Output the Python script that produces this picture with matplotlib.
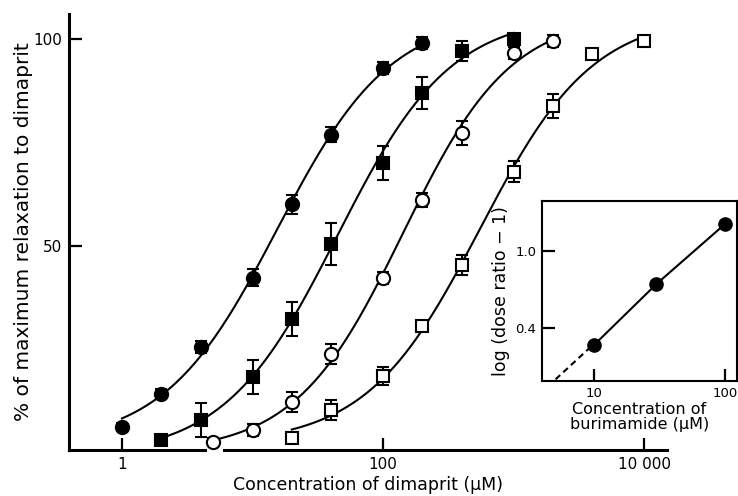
import numpy as np
import matplotlib
matplotlib.use("Agg")
import matplotlib.pyplot as plt

plt.rcParams['font.family'] = ['DejaVu Sans']

# dimaprit concentration-response curves (uM, % of max relaxation)
ctrl_x = [1, 2, 4, 10, 20, 40, 100, 200]
ctrl_y = [6.3, 14.3, 25.6, 42.3, 60.1, 76.8, 93.0, 99.0]
ctrl_err = [1.0, 1.2, 1.5, 2.0, 2.3, 1.8, 1.5, 1.5]

b10_x = [2, 4, 10, 20, 40, 100, 200, 400, 1000]
b10_y = [3.1, 8.0, 18.4, 32.4, 50.5, 70.0, 87.0, 97.1, 100.0]
b10_err = [1.0, 4.1, 4.1, 4.1, 5.0, 4.1, 3.9, 2.4, 1.2]

b30_x = [5, 10, 20, 40, 100, 200, 400, 1000, 2000]
b30_y = [2.7, 5.6, 12.3, 23.9, 42.3, 61.1, 77.3, 96.6, 99.5]
b30_err = [1.0, 1.5, 2.5, 2.5, 1.5, 1.7, 2.9, 1.5, 1.5]

b100_x = [20, 40, 100, 200, 400, 1000, 2000, 4000, 10000]
b100_y = [3.6, 10.4, 18.6, 30.7, 45.4, 67.9, 83.8, 96.4, 99.5]
b100_err = [1.0, 2.4, 2.2, 1.0, 2.4, 2.5, 2.9, 1.0, 1.0]

# Schild plot inset
schild_x = [10, 30, 100]
schild_y = [0.267, 0.743, 1.21]


def fit_curve(x, y):
    # 4-parameter logistic, brute force grid fit in log10(x)
    lx = np.log10(x)
    y = np.asarray(y)
    lec = np.linspace(lx.min(), lx.max(), 121)[:, None, None, None, None]
    n = np.linspace(0.5, 2.5, 41)[None, :, None, None, None]
    bot = np.linspace(-10, 5, 16)[None, None, :, None, None]
    top = np.linspace(98, 106, 9)[None, None, None, :, None]
    pred = bot + (top - bot) / (1 + 10 ** ((lec - lx) * n))
    sse = ((pred - y) ** 2).sum(axis=-1)
    i = np.unravel_index(np.argmin(sse), sse.shape)
    p = (lec.ravel()[i[0]], n.ravel()[i[1]], bot.ravel()[i[2]], top.ravel()[i[3]])
    xs = np.logspace(lx.min(), lx.max(), 200)
    ys = p[2] + (p[3] - p[2]) / (1 + 10 ** ((p[0] - np.log10(xs)) * p[1]))
    return xs, ys


fig = plt.figure(figsize=(7.38, 4.96), dpi=100)
ax = fig.add_axes([0.0935, 0.0927, 0.8105, 0.8791])

series = [
    (ctrl_x, ctrl_y, ctrl_err, 'o', 'black'),
    (b10_x, b10_y, b10_err, 's', 'black'),
    (b30_x, b30_y, b30_err, 'o', 'white'),
    (b100_x, b100_y, b100_err, 's', 'white'),
]
for x, y, err, mk, fc in series:
    xs, ys = fit_curve(x, y)
    ax.plot(xs, ys, color='black', lw=1.5, zorder=2)
    ax.errorbar(x, y, yerr=err, fmt=mk, mfc=fc, mec='black', mew=1.5,
                ms=9.5 if mk == 'o' else 8.5, ecolor='black', elinewidth=1.5,
                capsize=4, capthick=1.5, zorder=3, clip_on=False)

ax.set_xscale('log')
ax.set_xlim(0.393, 15000)
ax.set_ylim(0.7, 106)
ax.spines['top'].set_visible(False)
ax.spines['right'].set_visible(False)
ax.spines['bottom'].set_visible(False)
ax.spines['left'].set_linewidth(2.2)
# x axis drawn in two pieces (small break near 5 uM)
ax.plot([0.393, 4.3], [0.7, 0.7], color='black', lw=2.2, clip_on=False, zorder=1)
ax.plot([6.0, 15000], [0.7, 0.7], color='black', lw=2.2, clip_on=False, zorder=1)

ax.set_xticks([1, 100, 10000])
ax.set_xticklabels(['1', '100', '10 000'])
ax.xaxis.set_minor_locator(matplotlib.ticker.NullLocator())
ax.set_yticks([50, 100])
ax.tick_params(direction='in', length=9, width=1.6, labelsize=11, pad=5)
ax.set_xlabel('Concentration of dimaprit (\u03bcM)', fontsize=12.5, labelpad=3)
ax.set_ylabel('% of maximum relaxation to dimaprit', fontsize=14.5, labelpad=0)

# inset: Schild plot
ins = fig.add_axes([0.7344, 0.2319, 0.2642, 0.3629])
lx = np.log10(schild_x)
k = np.polyfit(lx, schild_y, 1)
x0 = 10 ** (-k[1] / k[0])
ins.plot(schild_x, schild_y, color='black', lw=1.5, marker='o', ms=9.5, zorder=3)
ins.plot([x0, schild_x[0]], [0, np.polyval(k, lx[0])], color='black', lw=1.5,
         ls=(0, (3, 2)), zorder=2)
ins.set_xscale('log')
ins.set_xlim(4.01, 123.5)
ins.set_ylim(-0.013, 1.39)
ins.set_xticks([10, 100])
ins.set_xticklabels(['10', '100'])
ins.xaxis.set_minor_locator(matplotlib.ticker.NullLocator())
ins.set_yticks([0.4, 1.0])
ins.set_yticklabels(['0.4', '1.0'])
for s in ins.spines.values():
    s.set_linewidth(1.5)
ins.tick_params(direction='in', length=9, width=1.6, labelsize=9.5, pad=4)
ins.set_xlabel('Concentration of\nburimamide (\u03bcM)', fontsize=11.5, labelpad=2,
               linespacing=1.0)
ins.set_ylabel('log (dose ratio \u2212 1)', fontsize=12.5, labelpad=4)

fig.savefig('out.png', dpi=100)
